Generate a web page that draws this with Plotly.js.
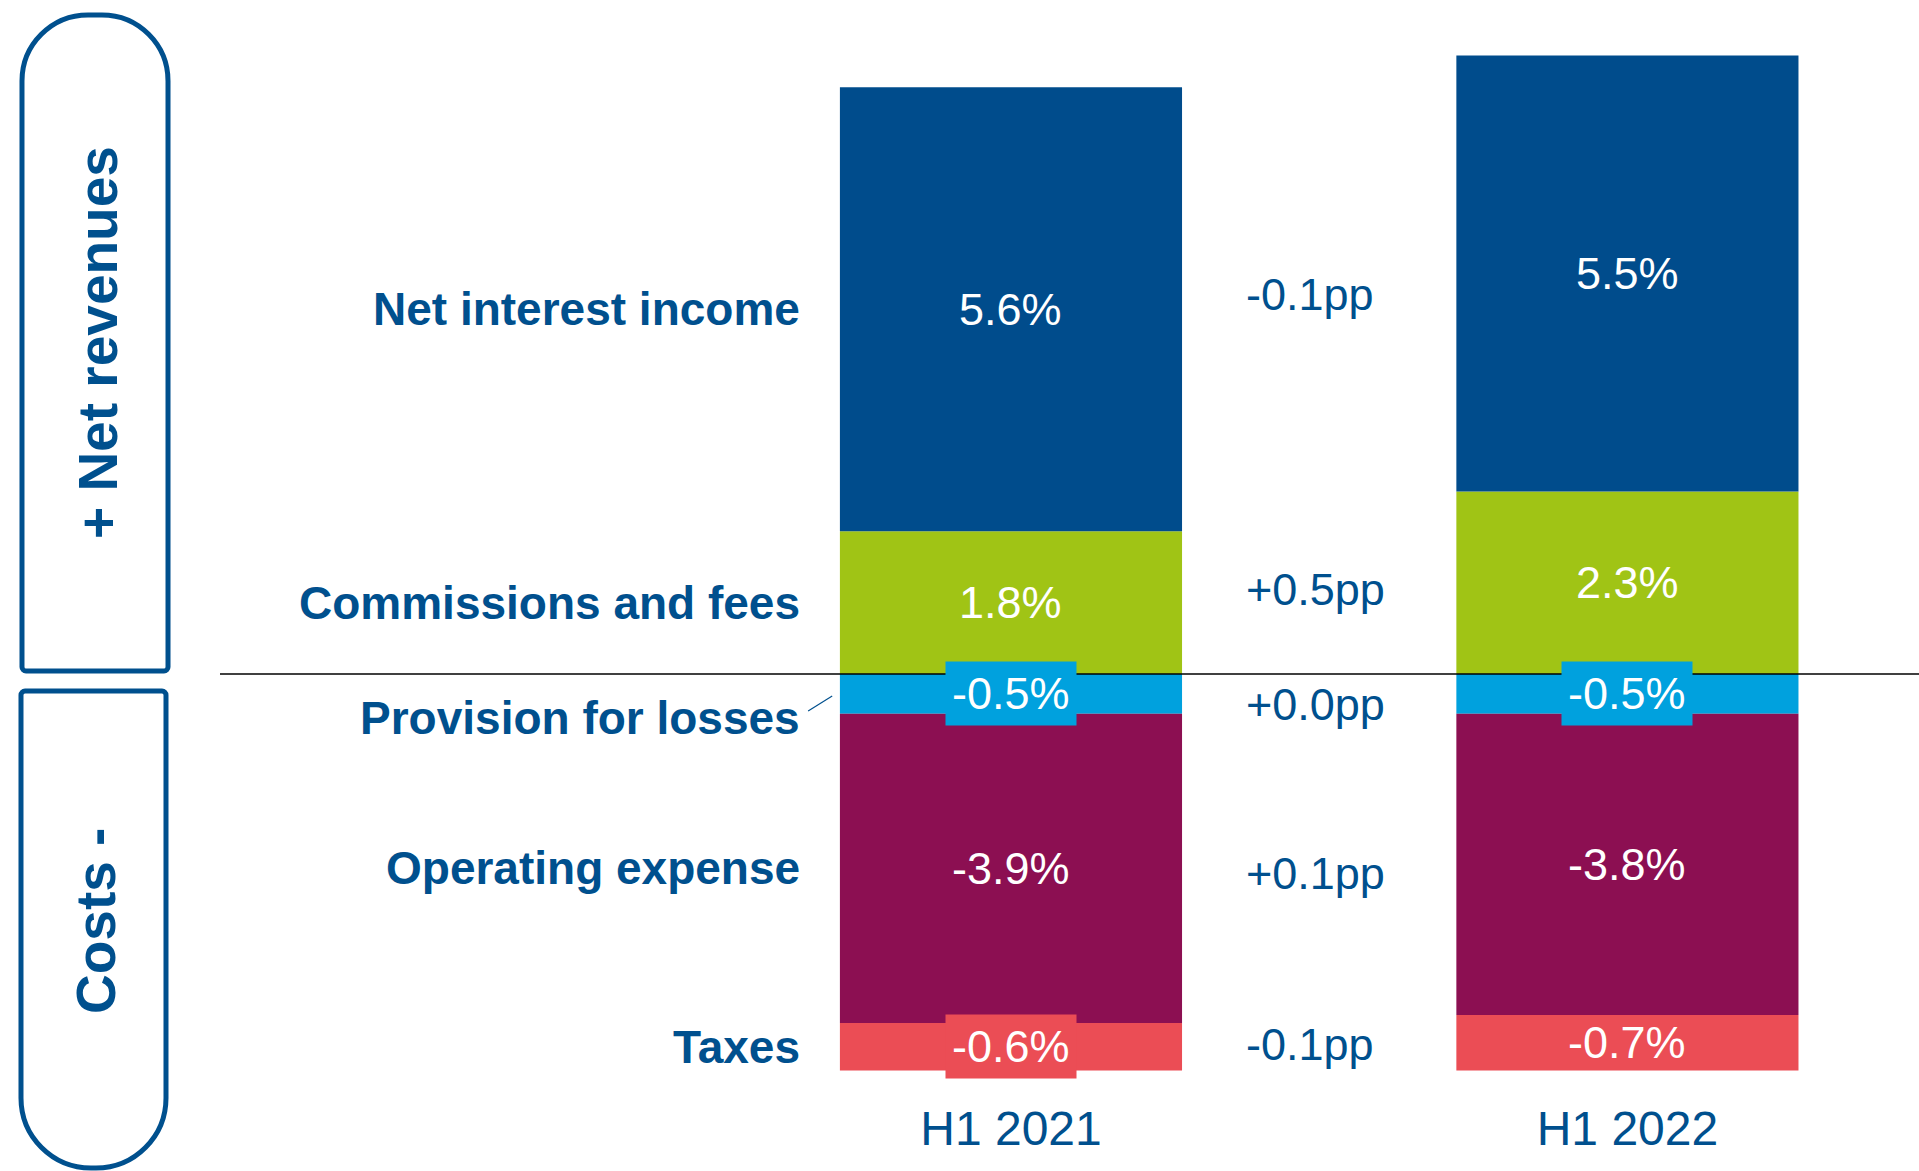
<!DOCTYPE html>
<html>
<head>
<meta charset="utf-8">
<script src="https://cdn.plot.ly/plotly-3.0.1.min.js"></script>
<style>
  html, body { margin: 0; padding: 0; background: #fff; }
  #chart { width: 1919px; height: 1171px; }
</style>
</head>
<body>
<div id="chart"></div>
<script>
// periods (columns) and components (rows, top to bottom)
const periods = ['H1 2021', 'H1 2022'];
const components = ['Net interest income', 'Commissions and fees', 'Provision for losses', 'Operating expense', 'Taxes'];
const h1_2021 = [5.6, 1.8, -0.5, -3.9, -0.6];
const h1_2022 = [5.5, 2.3, -0.5, -3.8, -0.7];
const changes = ['-0.1pp', '+0.5pp', '+0.0pp', '+0.1pp', '-0.1pp'];
const colors = ['#004c8c', '#a0c415', '#00a1de', '#8c0f52', '#eb4d55'];

const blue = '#00508e';
const font = 'Liberation Sans, Arial, sans-serif';
const W = 1919, H = 1171, B = 81;
const plotH = H - B;

// stacking order: commissions sit on the zero line above, provisions below
const stackOrder = [1, 0, 2, 3, 4];
const xs = [0, 1];
const series = [h1_2021, h1_2022];

const traces = stackOrder.map(function(i) {
    return {
        type: 'bar',
        x: xs,
        y: series.map(s => s[i]),
        name: components[i],
        width: 0.555,
        marker: { color: colors[i], line: { width: 0 } },
        hoverinfo: 'skip'
    };
});

// centre of each segment, per column
function centers(vals) {
    let pos = 0, neg = 0;
    const out = [];
    stackOrder.forEach(function(i) {
        const v = vals[i];
        if (v >= 0) { out[i] = pos + v / 2; pos += v; }
        else { out[i] = neg + v / 2; neg += v; }
    });
    return out;
}
const c2021 = centers(h1_2021);
const c2022 = centers(h1_2022);

const annotations = [];

// value labels inside the bars
series.forEach(function(s, col) {
    const cs = col === 0 ? c2021 : c2022;
    s.forEach(function(v, i) {
        const small = Math.abs(v) < 0.65;
        annotations.push({
            x: xs[col], y: cs[i], xref: 'x', yref: 'y',
            text: v.toFixed(1) + '%',
            showarrow: false,
            font: { family: font, size: 45, color: '#fff' },
            bgcolor: small ? colors[i] : 'rgba(0,0,0,0)',
            borderpad: 6
        });
    });
});

// row labels on the left
components.forEach(function(name, i) {
    annotations.push({
        x: 802 / W, y: c2021[i], xref: 'paper', yref: 'y',
        xanchor: 'right',
        text: '<b>' + name + '</b>',
        showarrow: false,
        yshift: i === 2 ? -24 : 0,
        font: { family: font, size: 46, color: blue }
    });
});

// change between periods
const ppShift = [-3, 3, -11, -7, 0];
changes.forEach(function(t, i) {
    annotations.push({
        x: 0.378, y: (c2021[i] + c2022[i]) / 2, xref: 'x', yref: 'y',
        xanchor: 'left',
        text: t,
        showarrow: false,
        yshift: ppShift[i],
        font: { family: font, size: 45, color: blue }
    });
});

// side box titles
annotations.push({
    x: 98 / W, y: 1 - 343 / plotH, xref: 'paper', yref: 'paper',
    xanchor: 'center', yanchor: 'middle',
    text: '<b>+ Net revenues</b>', textangle: -90, showarrow: false,
    font: { family: font, size: 55, color: blue }
});
annotations.push({
    x: 96 / W, y: 1 - 921 / plotH, xref: 'paper', yref: 'paper',
    xanchor: 'center', yanchor: 'middle',
    text: '<b>Costs -</b>', textangle: -90, showarrow: false,
    font: { family: font, size: 55, color: blue }
});

// rounded boxes, drawn in page pixels then mapped to paper coords
function px(x) { return (x / W).toFixed(5); }
function py(y) { return (1 - y / plotH).toFixed(5); }
function roundBox(l, t, r, b, rt, rb) {
    const k = 0.5523;
    const p = (x, y) => px(x) + ',' + py(y);
    return 'M' + p(l, t + rt) +
        ' C' + p(l, t + rt - k * rt) + ' ' + p(l + rt - k * rt, t) + ' ' + p(l + rt, t) +
        ' L' + p(r - rt, t) +
        ' C' + p(r - rt + k * rt, t) + ' ' + p(r, t + rt - k * rt) + ' ' + p(r, t + rt) +
        ' L' + p(r, b - rb) +
        ' C' + p(r, b - rb + k * rb) + ' ' + p(r - rb + k * rb, b) + ' ' + p(r - rb, b) +
        ' L' + p(l + rb, b) +
        ' C' + p(l + rb - k * rb, b) + ' ' + p(l, b - rb + k * rb) + ' ' + p(l, b - rb) +
        ' Z';
}

const shapes = [
    { type: 'path', xref: 'paper', yref: 'paper', path: roundBox(22, 15, 168, 671, 66, 4),
      line: { color: blue, width: 5 } },
    { type: 'path', xref: 'paper', yref: 'paper', path: roundBox(21, 691, 166, 1168, 4, 70),
      line: { color: blue, width: 5 } },
    // zero line
    { type: 'line', xref: 'paper', yref: 'y', x0: 220 / W, x1: 1, y0: 0, y1: 0,
      layer: 'above', line: { color: '#000', width: 1.6 } },
    // leader for provisions label
    { type: 'line', xref: 'x', yref: 'y', x0: -0.329, y0: -0.467, x1: -0.290, y1: -0.277,
      line: { color: blue, width: 1.2 } }
];

const layout = {
    width: W, height: H,
    margin: { l: 0, r: 0, t: 0, b: B },
    paper_bgcolor: '#fff', plot_bgcolor: '#fff',
    barmode: 'relative',
    showlegend: false,
    hovermode: false,
    xaxis: {
        range: [-1.640, 1.473],
        tickvals: xs, ticktext: periods,
        ticks: '', showgrid: false, zeroline: false, showline: false,
        ticklabelstandoff: 6,
        tickfont: { family: font, size: 48, color: blue }
    },
    yaxis: {
        range: [-(plotH - 674) / 79.3, 674 / 79.3],
        showticklabels: false, showgrid: false, zeroline: false, showline: false
    },
    annotations: annotations,
    shapes: shapes
};

Plotly.newPlot('chart', traces, layout, { displayModeBar: false, staticPlot: true });
</script>
</body>
</html>
